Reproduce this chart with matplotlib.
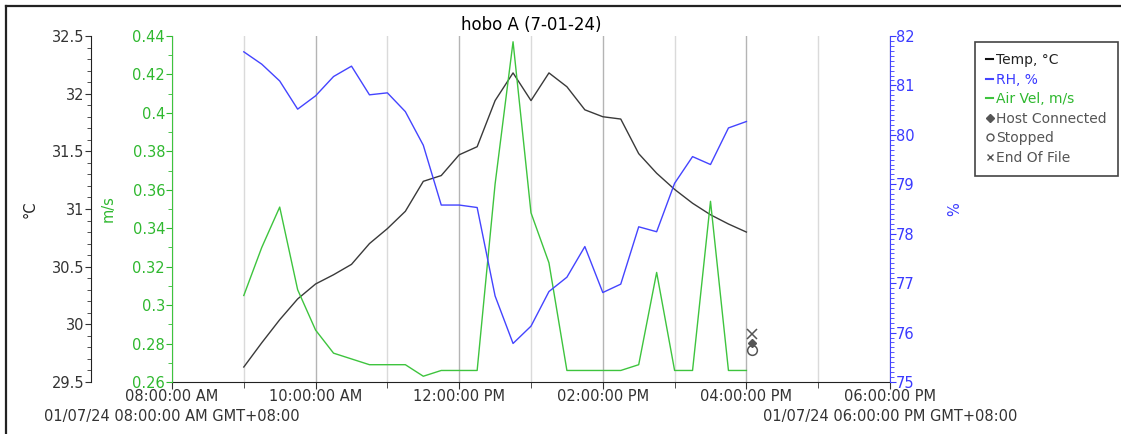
import numpy as np
import pandas as pd
import matplotlib
matplotlib.use("Agg")
import matplotlib.pyplot as plt
import matplotlib.dates as mdates
from matplotlib.lines import Line2D
from matplotlib.ticker import MultipleLocator, FuncFormatter

plt.rcParams['font.family'] = ['DejaVu Sans']

# readings every 15 minutes, 9:00 to 16:00
times = pd.date_range("2024-07-01 09:00", "2024-07-01 16:00", freq="15min")

temp = [29.63, 29.84, 30.04, 30.22, 30.35, 30.43, 30.52, 30.70, 30.83, 30.98,
        31.24, 31.29, 31.47, 31.54, 31.94, 32.18, 31.94, 32.18, 32.06, 31.86,
        31.80, 31.78, 31.48, 31.31, 31.17, 31.05, 30.95, 30.87, 30.80]
rh = [81.68, 81.43, 81.09, 80.52, 80.79, 81.18, 81.39, 80.81, 80.85, 80.47,
      79.79, 78.58, 78.58, 78.53, 76.74, 75.78, 76.13, 76.83, 77.12, 77.74,
      76.81, 76.98, 78.14, 78.04, 79.02, 79.56, 79.40, 80.14, 80.27]
air = [0.305, 0.330, 0.351, 0.308, 0.287, 0.275, 0.272, 0.269, 0.269, 0.269,
       0.263, 0.266, 0.266, 0.266, 0.363, 0.437, 0.348, 0.322, 0.266, 0.266,
       0.266, 0.266, 0.269, 0.317, 0.266, 0.266, 0.354, 0.266, 0.266]

# event markers (plotted on temp scale)
event_time = pd.Timestamp("2024-07-01 16:05")
ev_host = 29.84
ev_stop = 29.78
ev_eof = 29.92

x_start = pd.Timestamp("2024-07-01 08:00")
x_end = pd.Timestamp("2024-07-01 18:00")

c_temp = '#3a3a3a'
c_rh = '#4444ff'
c_air = '#3ec43e'
c_air_txt = '#2fb82f'
c_rh_txt = '#3a3aff'
c_ev = '#555555'

W, H = 1121, 434
fig = plt.figure(figsize=(W / 100, H / 100), dpi=100)
ax = fig.add_axes([172 / W, 1 - 382 / H, (890 - 172) / W, (382 - 36) / H])
ax2 = ax.twinx()
ax3 = ax.twinx()

# temperature axis (far left)
ax.plot(times, temp, color=c_temp, lw=1.0)
ax.plot([event_time], [ev_host], marker='D', ms=4, color=c_ev, ls='none')
ax.plot([event_time], [ev_stop], marker='o', ms=7, mfc='none', mec=c_ev, mew=1.1, ls='none')
ax.plot([event_time], [ev_eof], marker='x', ms=7, color=c_ev, mew=1.1, ls='none')
ax.set_ylim(29.5, 32.5)
ax.yaxis.set_major_locator(MultipleLocator(0.5))
ax.yaxis.set_minor_locator(MultipleLocator(0.1))
ax.yaxis.set_major_formatter(FuncFormatter(lambda v, p: f"{v:g}"))
ax.spines['left'].set_position(('outward', 81 * 0.72))
for s in ['top', 'right']:
    ax.spines[s].set_visible(False)
ax.tick_params(axis='y', which='major', length=4, labelsize=10.5, colors='#333333', pad=1)
ax.tick_params(axis='y', which='minor', length=3, colors='#333333')

# x axis
ax.set_xlim(x_start, x_end)
ax.xaxis.set_major_locator(mdates.HourLocator(byhour=range(0, 24, 2)))
ax.xaxis.set_minor_locator(mdates.HourLocator(byhour=range(1, 24, 2)))
ax.xaxis.set_major_formatter(mdates.DateFormatter('%I:%M:%S %p'))
ax.tick_params(axis='x', which='major', length=5, labelsize=10.5, colors='#333333', pad=0)
ax.tick_params(axis='x', which='minor', length=4, colors='#333333')
ax.grid(which='major', axis='x', color='#b4b4b4', lw=1.0)
ax.grid(which='minor', axis='x', color='#dadada', lw=1.0)
ax.spines['bottom'].set_color('#222222')
ax.spines['left'].set_color('#222222')

# air velocity axis (inner left)
ax2.plot(times, air, color=c_air, lw=1.0)
ax2.set_ylim(0.26, 0.44)
ax2.yaxis.tick_left()
ax2.yaxis.set_major_locator(MultipleLocator(0.02))
ax2.yaxis.set_minor_locator(MultipleLocator(0.01))
ax2.yaxis.set_major_formatter(FuncFormatter(lambda v, p: f"{v:g}"))
for s in ['top', 'right', 'bottom']:
    ax2.spines[s].set_visible(False)
ax2.spines['left'].set_visible(True)
ax2.spines['left'].set_color(c_air)
ax2.tick_params(axis='y', which='major', length=4, labelsize=10.5, colors=c_air_txt, pad=1)
ax2.tick_params(axis='y', which='minor', length=3, colors=c_air_txt)

# RH axis (right)
ax3.plot(times, rh, color=c_rh, lw=1.0)
ax3.set_ylim(75, 82)
ax3.yaxis.set_major_locator(MultipleLocator(1))
ax3.yaxis.set_minor_locator(MultipleLocator(0.1))
for s in ['top', 'left', 'bottom']:
    ax3.spines[s].set_visible(False)
ax3.spines['right'].set_color(c_rh)
ax3.tick_params(axis='y', which='major', length=4, labelsize=10.5, colors=c_rh_txt, pad=0)
ax3.tick_params(axis='y', which='minor', length=3, colors=c_rh_txt)

ax.set_title("hobo A (7-01-24)", fontsize=12, color='#000000', pad=4)

# axis labels
fig.text(30 / W, 1 - 209 / H, "°C", rotation=90, ha='center', va='center', fontsize=10.5, color='#222222')
fig.text(108 / W, 1 - 209 / H, "m/s", rotation=90, ha='center', va='center', fontsize=10.5, color=c_air_txt)
fig.text(955 / W, 1 - 209 / H, "%", rotation=90, ha='center', va='center', fontsize=10.5, color=c_rh_txt)

# full date under first and last tick
for xt, lab in [(x_start, "01/07/24 08:00:00 AM GMT+08:00"),
                (x_end, "01/07/24 06:00:00 PM GMT+08:00")]:
    ax.annotate(lab, xy=(mdates.date2num(xt), 0), xycoords=('data', 'axes fraction'),
                xytext=(0, -34), textcoords='offset pixels', ha='center', va='center',
                fontsize=10.5, color='#333333', annotation_clip=False)

# legend
handles = [
    Line2D([], [], color='#111111', lw=1.5),
    Line2D([], [], color=c_rh, lw=1.5),
    Line2D([], [], color=c_air, lw=1.5),
    Line2D([], [], marker='D', ms=4, color=c_ev, ls='none'),
    Line2D([], [], marker='o', ms=5, mfc='none', mec=c_ev, ls='none'),
    Line2D([], [], marker='x', ms=5, color=c_ev, ls='none'),
]
labels = ["Temp, °C", "RH, %", "Air Vel, m/s", "Host Connected", "Stopped", "End Of File"]
leg = fig.legend(handles, labels, loc='upper left', bbox_to_anchor=(975 / W, 1 - 42 / H),
                 borderaxespad=0, fontsize=10, handlelength=0.5, handletextpad=0.2,
                 labelspacing=0.4, borderpad=0.8, fancybox=False, framealpha=1,
                 edgecolor='#444444')
leg.get_frame().set_linewidth(1.2)
for t, c in zip(leg.get_texts(), ['#222222', c_rh_txt, c_air_txt, c_ev, c_ev, c_ev]):
    t.set_color(c)

# outer frame (top and left edges visible)
fig.add_artist(Line2D([6 / W, 1], [1 - 6 / H, 1 - 6 / H], transform=fig.transFigure, color='#222222', lw=1.6))
fig.add_artist(Line2D([6 / W, 6 / W], [0, 1 - 6 / H], transform=fig.transFigure, color='#222222', lw=1.6))

fig.savefig("out.png", dpi=100)
